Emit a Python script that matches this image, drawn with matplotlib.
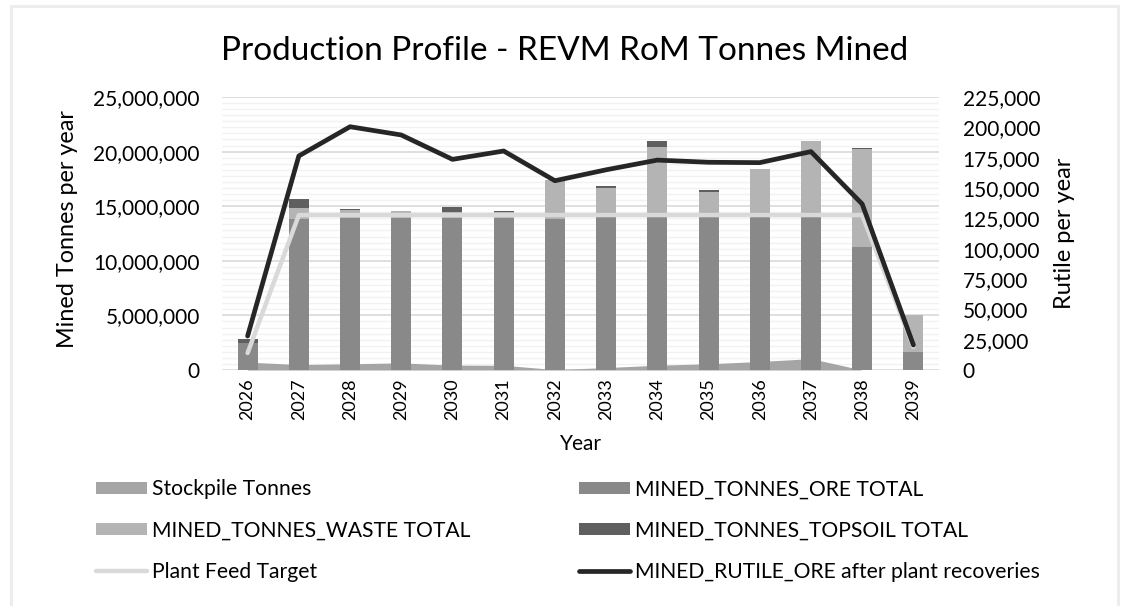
import numpy as np
import matplotlib
matplotlib.use("Agg")
import matplotlib.pyplot as plt
from matplotlib.ticker import MultipleLocator, FuncFormatter
from matplotlib.patches import Rectangle

plt.rcParams['font.family'] = ['Lato', 'DejaVu Sans']

years = ['2026', '2027', '2028', '2029', '2030', '2031', '2032',
         '2033', '2034', '2035', '2036', '2037', '2038', '2039']

# tonnes (primary axis)
stockpile = [720000, 500000, 570000, 650000, 450000, 430000, 40000,
             220000, 440000, 570000, 780000, 1040000, 0, 0]
ore = [2450000, 13820000, 13950000, 13950000, 13960000, 13960000, 13840000,
       14000000, 14000000, 14000000, 14000000, 14000000, 11250000, 1650000]
waste = [50000, 1060000, 690000, 610000, 550000, 530000, 3550000,
         2690000, 6440000, 2320000, 4400000, 6970000, 8950000, 3360000]
topsoil = [330000, 770000, 120000, 20000, 430000, 90000, 30000,
           120000, 520000, 120000, 0, 0, 120000, 0]

# rutile (secondary axis)
plant_feed = [14000, 127700, 127700, 127700, 127700, 127700, 127700,
              127700, 127700, 127700, 127700, 127700, 127700, 19000]
rutile = [28000, 176400, 200500, 193700, 173600, 180500, 156000,
          165000, 173000, 171200, 170900, 180000, 136800, 20600]

c_stock = '#a5a5a5'
c_ore = '#898989'
c_waste = '#b4b4b4'
c_top = '#5f5f5f'
c_feed = '#d9d9d9'
c_rutile = '#262626'

fig = plt.figure(figsize=(11.23, 6.06), dpi=100)
ax = fig.add_axes([222 / 1123, 1 - 370 / 606, 717 / 1123, 273 / 606])

x = np.arange(len(years))
w = 0.39

h_stock = ax.fill_between(x, 0, stockpile, color=c_stock, lw=0, zorder=1)
ore_a = np.array(ore)
waste_a = np.array(waste)
h_ore = ax.bar(x, ore_a, w, color=c_ore, zorder=2)
h_waste = ax.bar(x, waste_a, w, bottom=ore_a, color=c_waste, zorder=2)
h_top = ax.bar(x, topsoil, w, bottom=ore_a + waste_a, color=c_top, zorder=2)

ax.set_xlim(-0.5, len(years) - 0.5)
ax.set_ylim(0, 25000000)
ax.yaxis.set_major_locator(MultipleLocator(5000000))
ax.yaxis.set_minor_locator(MultipleLocator(25000000 / 45))
ax.grid(which='major', axis='y', color='#d9d9d9', lw=1.2, zorder=0)
ax.grid(which='minor', axis='y', color='#f2f2f2', lw=1.0, zorder=0)
ax.set_axisbelow(True)
ax.yaxis.set_major_formatter(FuncFormatter(lambda v, p: f'{v:,.0f}'))
ax.set_xticks(x)
ax.set_xticklabels(years, rotation=90)
for s in ax.spines.values():
    s.set_visible(False)
ax.tick_params(axis='both', which='both', length=0, labelsize=15, colors='#000000')
ax.tick_params(axis='y', pad=16)
ax.tick_params(axis='x', pad=6, labelsize=13)

ax2 = ax.twinx()
ax2.set_ylim(0, 225000)
ax2.yaxis.set_major_locator(MultipleLocator(25000))
ax2.yaxis.set_major_formatter(FuncFormatter(lambda v, p: f'{v:,.0f}'))
for s in ax2.spines.values():
    s.set_visible(False)
ax2.tick_params(axis='y', length=0, labelsize=15, pad=17)
h_feed, = ax2.plot(x, plant_feed, color=c_feed, lw=3.2, solid_capstyle='round', zorder=3)
h_rut, = ax2.plot(x, rutile, color=c_rutile, lw=3.4, solid_capstyle='round', zorder=4)

ax.set_ylabel('Mined Tonnes per year', fontsize=16.8)
ax.yaxis.set_label_coords(-0.201, 0.515)
ax2.set_ylabel('Rutile per year', fontsize=17)
ax2.yaxis.set_label_coords(1.160, 0.5)
ax.set_xlabel('Year', fontsize=15)
ax.xaxis.set_label_coords(0.5, -0.235)

fig.text(565 / 1123, 1 - 51 / 606, 'Production Profile - REVM RoM Tonnes Mined',
         ha='center', va='center', fontsize=24)

handles = [h_stock, h_waste, h_feed, h_ore, h_top, h_rut]
labels = ['Stockpile Tonnes', 'MINED_TONNES_WASTE TOTAL', 'Plant Feed Target',
          'MINED_TONNES_ORE TOTAL', 'MINED_TONNES_TOPSOIL TOTAL',
          'MINED_RUTILE_ORE after plant recoveries']
fig.legend(handles, labels, ncol=2, loc='upper left',
           bbox_to_anchor=(88 / 1123, 1 - 471 / 606), frameon=False,
           fontsize=15.2, handlelength=2.4, handleheight=0.55, handletextpad=0.25,
           columnspacing=5.15, labelspacing=1.0, borderaxespad=0)

fig.patches.append(Rectangle((11.5 / 1123, -0.05), 1106 / 1123, 1.05 - 6 / 606,
                             transform=fig.transFigure, fill=False,
                             ec='#ededed', lw=2.2))

fig.savefig('out.png', dpi=100)
